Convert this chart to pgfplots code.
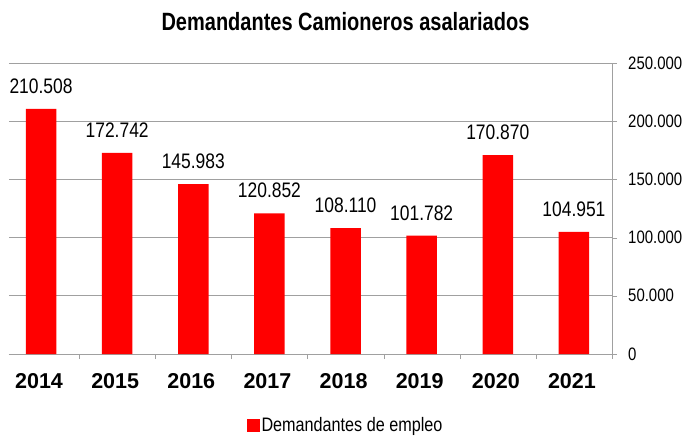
\documentclass[border=0pt]{standalone}
\usepackage{fontspec}
\setmainfont{Liberation Sans}
\newfontfamily\narrowfont{Liberation Sans}[FakeStretch=0.83]
\newfontfamily\titlefont{Liberation Sans}[FakeStretch=0.80]
\usepackage{pgfplots}
\usepackage{pgfplotstable}
\pgfplotsset{compat=1.18}
\definecolor{gridgray}{RGB}{160,160,160}
\pgfplotstableread{
x val lab
0 210508 210.508
1 172742 172.742
2 145983 145.983
3 120852 120.852
4 108110 108.110
5 101782 101.782
6 170870 170.870
7 104951 104.951
}\datatable
\begin{document}
\begin{tikzpicture}[x=1pt,y=1pt]
\useasboundingbox (0,0) rectangle (691,437);
\node[font={\titlefont\bfseries\fontsize{25}{28}\selectfont}, anchor=base, inner sep=0pt] at (345.5,406) {Demandantes Camioneros asalariados};
\begin{axis}[
  at={(9pt,83pt)}, anchor=south west,
  scale only axis, width=603pt, height=291pt,
  xmin=-0.421, xmax=7.5, ymin=0, ymax=250000,
  axis x line*=bottom, axis y line*=right,
  axis line style={gridgray, -},
  xtick={0,...,7},
  xticklabels={2014,2015,2016,2017,2018,2019,2020,2021},
  major x tick style={draw=none},
  minor xtick={0.5,1.5,...,7.5},
  minor x tick style={gridgray},
  minor tick length=5pt,
  tick align=outside,
  ytick={0,50000,100000,150000,200000,250000},
  yticklabels={0,50.000,100.000,150.000,200.000,250.000},
  ytick style={gridgray},
  major tick length=5pt,
  ymajorgrids, grid style={gridgray, line width=0.8pt},
  scaled y ticks=false,
  xticklabel style={font={\bfseries\fontsize{21.5}{24}\selectfont}, anchor=north, inner sep=0pt, yshift=-14pt, xshift=-2pt},
  yticklabel style={font={\narrowfont\fontsize{18}{21}\selectfont}, anchor=west, inner sep=0pt, xshift=11pt},
  point meta=explicit symbolic,
  nodes near coords={\pgfplotspointmeta},
  every node near coord/.append style={font={\narrowfont\fontsize{21}{24}\selectfont}, anchor=south, inner sep=0pt, yshift=15pt, text=black},
  legend style={at={(0.558,-0.244)}, anchor=center, draw=none, fill=none,
    font={\narrowfont\fontsize{19.5}{22}\selectfont},
    nodes={inner sep=2pt}},
  legend image code/.code={\fill[red] (0pt,-6.5pt) rectangle (13pt,6.5pt);},
  clip=false,
]
\addplot[ybar, bar width=0.4, fill=red, draw=none, bar shift=0pt] table[x=x, y=val, meta=lab] {\datatable};
\addlegendentry{Demandantes de empleo}
\end{axis}
\end{tikzpicture}
\end{document}
